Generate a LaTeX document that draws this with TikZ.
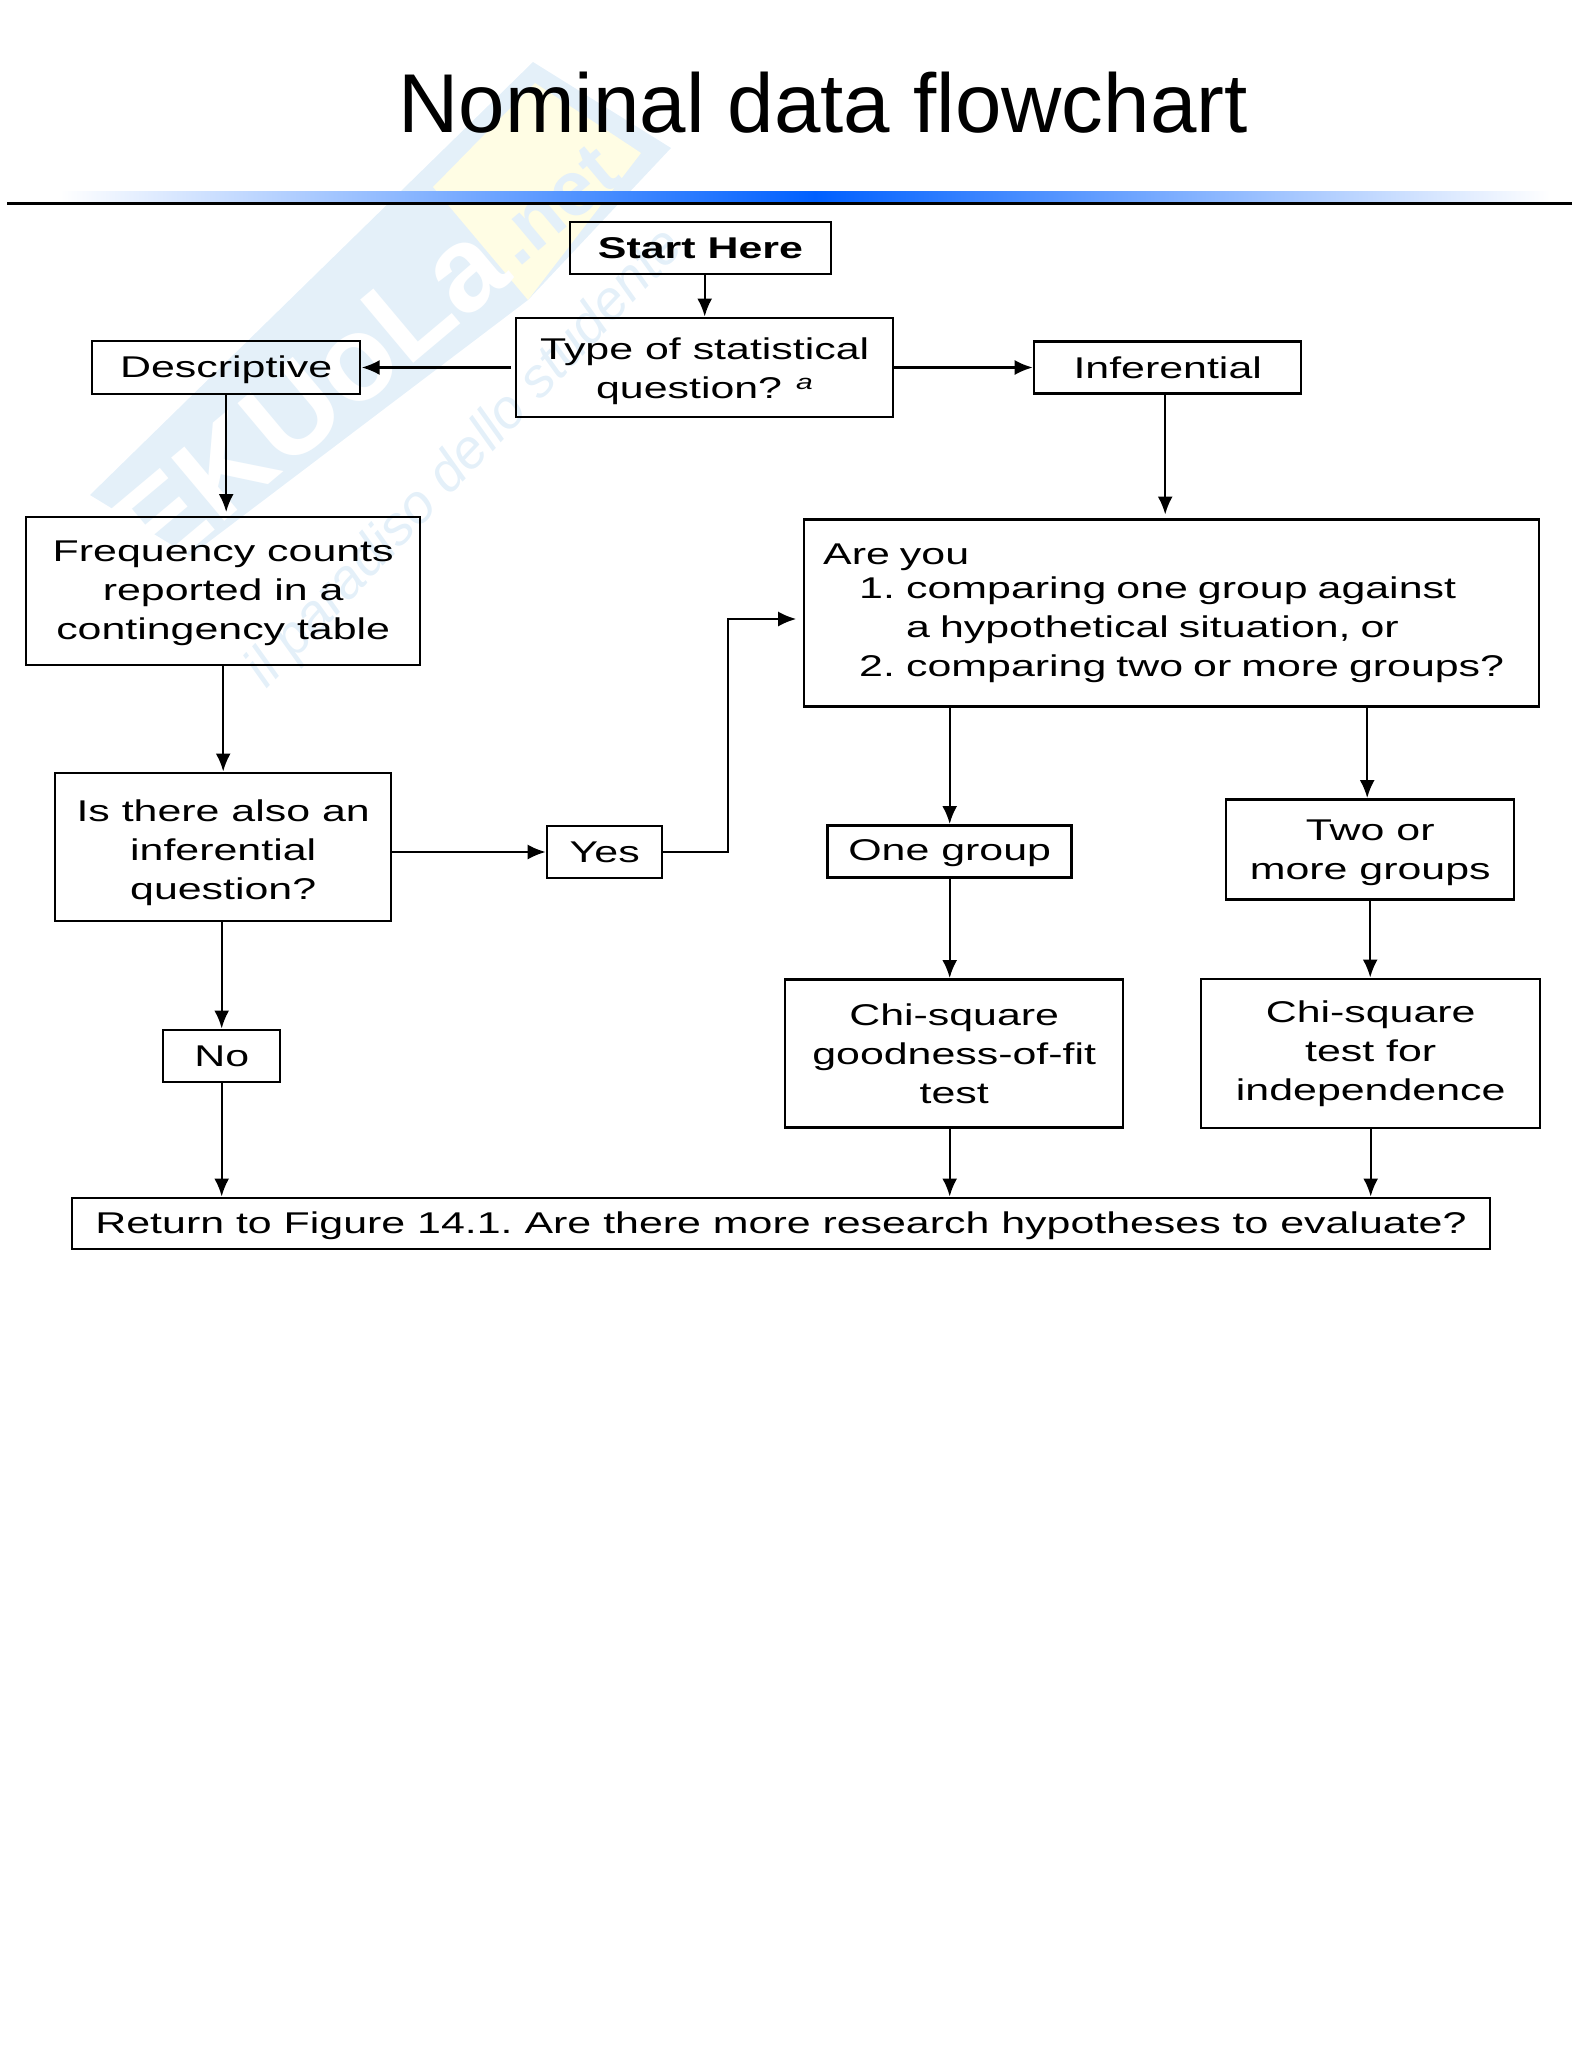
\documentclass[tikz,border=0pt]{standalone}
\usepackage{fontspec}
\setmainfont{Liberation Sans}
\newfontfamily\boxfont{Liberation Sans}[FakeStretch=1.43]
\usetikzlibrary{arrows.meta}
\usetikzlibrary{positioning}
\frenchspacing
\definecolor{markblue}{HTML}{E4F0F9}
\definecolor{markyellow}{HTML}{FFFDE4}
\definecolor{bandblue}{HTML}{0060FF}
\newcommand{\lowtext}[1]{\rule{0pt}{#1}}
\tikzstyle{boxnode} = [draw, rectangle, line width=2.5pt, outer sep=0pt, inner sep=0pt, align=center, font=\boxfont\fontsize{30}{39}\selectfont]
\tikzstyle{marknode} = [inner sep=0pt, rotate=40, font=\bfseries\fontsize{120}{120}\selectfont]
\tikzstyle{flow} = [line width=2.2pt, shorten >=1.5pt]

\begin{document}
\begin{tikzpicture}[x=1pt, y=-1pt, >={Latex[length=18pt, width=15pt]}]
  \useasboundingbox (0,0) rectangle (1572,2072);

  % watermark
  \fill[markblue] (90,495) -- (533,62) -- (671,148) -- (528,300) -- (190,556) -- cycle;
  \fill[markyellow] (433,187) -- (535,83) -- (641,153) -- (528,300) -- cycle;
  \node[marknode, white] (mark_a) at (310,397) {EKUoLa};
  \node[marknode, markblue, scale=0.65] (mark_b) at (555,205) {.net};
  \node[inner sep=0pt, markblue, rotate=46.5, font=\itshape\fontsize{55}{55}\selectfont] (mark_c) at (466,459) {il paradiso dello studente};

  % title and rule
  \node[inner sep=0pt, anchor=base, font=\fontsize{83.5}{83.5}\selectfont] (title) at (823,132) {Nominal data flowchart};
  \shade[left color=white, right color=bandblue] (60,191) rectangle (815,201);
  \shade[left color=bandblue, right color=white] (815,191) rectangle (1550,201);
  \coordinate (rule_l) at (7,203);
  \coordinate (rule_r) at (1572,203);
  \draw[line width=3pt] (rule_l) -- (rule_r);

  \node[boxnode, minimum width=261pt, minimum height=52pt] (start) at (700.5,248) {\bfseries Start Here};
  \node[boxnode, minimum width=377pt, minimum height=99pt, below=44pt of start, xshift=4.2pt] (type) {\lowtext{30pt}Type of statistical\\question?\hspace{14pt}\textsuperscript{\itshape a}};
  \node[boxnode, minimum width=268pt, minimum height=53pt, left=156pt of type] (descr) {\lowtext{27pt}Descriptive};
  \node[boxnode, minimum width=267pt, minimum height=52pt, right=141pt of type] (infer) {Inferential};
  \node[boxnode, minimum width=394pt, minimum height=148pt, below=123pt of descr, xshift=-3pt] (freq) {\lowtext{25pt}Frequency counts\\reported in a\\contingency table};
  \node[boxnode, minimum width=735pt, minimum height=187pt, below=126pt of infer, xshift=4pt, text width=697pt, align=left] (are) {Are you\\[-5pt]
    \hspace*{36pt}\makebox[47pt][l]{1.}comparing one group against\\
    \hspace*{83pt}a hypothetical situation, or\\
    \hspace*{36pt}\makebox[47pt][l]{2.}comparing two or more groups?};
  \node[boxnode, minimum width=336pt, minimum height=148pt, below=108pt of freq] (also) {\lowtext{34pt}Is there also an\\inferential\\question?};
  \node[boxnode, minimum width=115pt, minimum height=52pt, right=156pt of also, yshift=-5pt] (yes) {Yes};
  \node[boxnode, minimum width=117pt, minimum height=52pt, below=109pt of also, xshift=-1.5pt] (no) {No};
  \node[boxnode, minimum width=244pt, minimum height=52pt, below=119pt of are, xshift=-222pt] (one) {\lowtext{25pt}One group};
  \node[boxnode, minimum width=288pt, minimum height=100pt, below=93pt of are, xshift=198.5pt] (two) {\lowtext{27pt}Two or\\more groups};
  \node[boxnode, minimum width=338pt, minimum height=148pt, below=102pt of one, xshift=4.5pt] (chi_fit) {Chi-square\\goodness-of-fit\\test};
  \node[boxnode, minimum width=339pt, minimum height=149pt, below=79.5pt of two, xshift=0.5pt] (chi_ind) {Chi-square\\test for\\independence};
  \node[boxnode, minimum width=1418pt, minimum height=51pt] (ret) at (781,1223.5) {\lowtext{27pt}Return to Figure 14.1. Are there more research hypotheses to evaluate?};

  \draw[->, flow] (start.south -| type.north) -- (type.north);
  \draw[->, flow, shorten <=5pt] (type.west) -- (descr.east);
  \draw[->, flow] (type.east) -- (infer.west);
  \draw[->, flow, shorten >=5pt] (descr.south) -- (descr.south |- freq.north);
  \draw[->, flow, shorten >=5pt] ([xshift=-2.5pt]infer.south) -- ([xshift=-2.5pt]infer.south |- are.north);
  \draw[->, flow] (freq.south) -- (freq.south |- also.north);
  \draw[->, flow] (also.east |- yes.west) -- (yes.west);
  \draw[->, flow, shorten >=8pt] (yes.east) -- ++(66,0) |- ([yshift=-6pt]are.west);
  \draw[->, flow] (also.south -| no.north) -- (no.north);
  \draw[->, flow] (no.south) -- (no.south |- ret.north);
  \draw[->, flow] (are.south -| one.north) -- (one.north);
  \draw[->, flow] ([xshift=-3pt]are.south -| two.north) -- ([xshift=-3pt]two.north);
  \draw[->, flow] (one.south) -- (one.south |- chi_fit.north);
  \draw[->, flow] (two.south) -- (two.south |- chi_ind.north);
  \draw[->, flow] (one.south |- chi_fit.south) -- (one.south |- ret.north);
  \draw[->, flow] (chi_ind.south) -- (chi_ind.south |- ret.north);
\end{tikzpicture}
\end{document}
